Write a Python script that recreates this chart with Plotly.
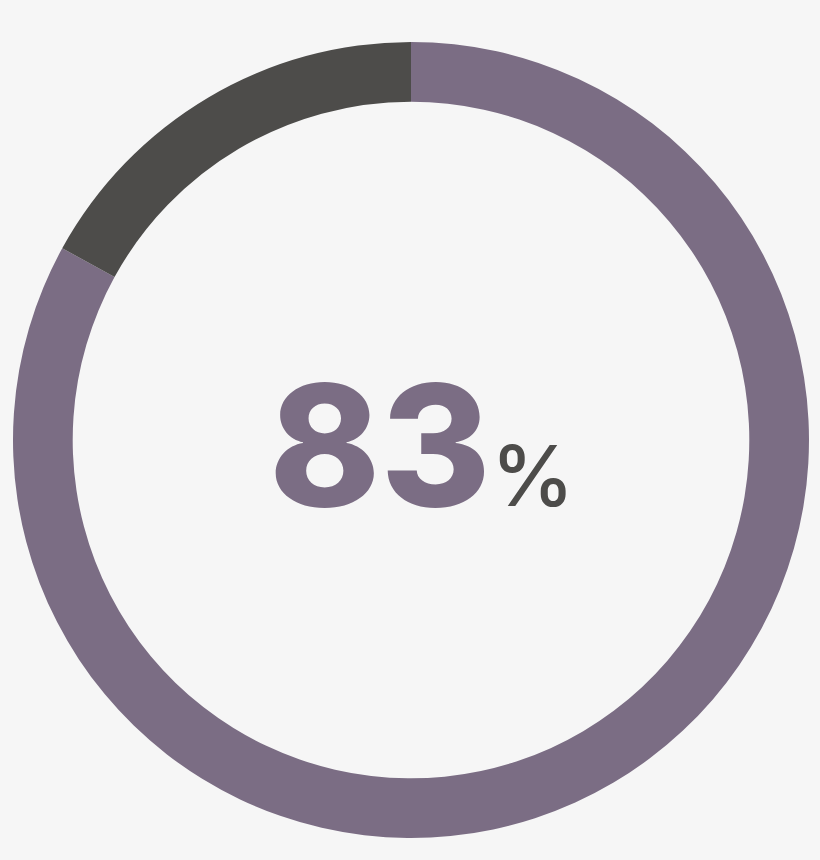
import plotly.graph_objects as go

# Dados do gráfico
labels = ['Concluído', 'Restante']
values = [83, 17]
cores = ['#7b6d84', '#4d4c4a']
percentual = '83'

W, H = 820, 860
cx, cy, r = 411, 440, 398

fig = go.Figure()

fig.add_trace(
    go.Pie(
        labels=labels,
        values=values,
        hole=0.85,
        sort=False,
        direction='clockwise',
        rotation=0,
        textinfo='none',
        hoverinfo='label+percent',
        marker=dict(colors=cores, line=dict(width=0)),
        domain=dict(
            x=[(cx - r) / W, (cx + r) / W],
            y=[(H - cy - r) / H, (H - cy + r) / H],
        ),
        showlegend=False,
    )
)

# Texto central
fig.add_annotation(
    x=(cx + 10) / W, y=(H - 549) / H,
    xref='paper', yref='paper',
    xanchor='center', yanchor='bottom',
    text=f"<span style='color:#7b6d84'>{percentual}</span>"
         "<span style='font-size:84px;color:#4d4c4a;font-weight:500'>%</span>",
    showarrow=False,
    font=dict(family='Inter', size=168, weight=800),
)

fig.update_layout(
    width=W, height=H,
    margin=dict(l=0, r=0, t=0, b=0),
    paper_bgcolor='#f6f6f6',
    plot_bgcolor='#f6f6f6',
)

# Remover margem da página
fig.write_html('out.html', config={'displayModeBar': False},
               post_script="document.body.style.margin='0';document.body.style.background='#f6f6f6';")
